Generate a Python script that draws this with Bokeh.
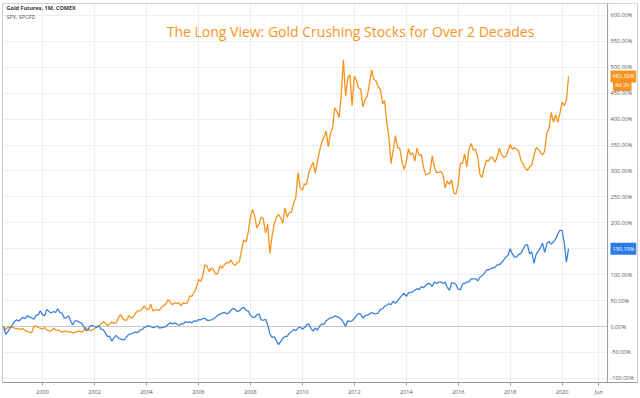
from datetime import datetime
import pandas as pd
from bokeh.plotting import figure
from bokeh.models import (Range1d, FixedTicker, PrintfTickFormatter, Label, Span,
                          BoxAnnotation, ColumnDataSource)
from bokeh.embed import file_html
from bokeh.resources import INLINE

# ---------------- data (percent change, monthly closes) ----------------
start_month = "1998-07-01"

gold_pct = [
    0, -6, -1, -2, -1, -3,
    -4, -4, -6, -4, -8, -10, -11, -12, 0, 1, -2, -3,
    -5, -2, -7, -8, -9, -3, -7, -7, -8, -11, -9, -9,
    -11, -10, -13, -11, -10, -9, -11, -8, -2, -6, -8, -6,
    -5, 0, 1, 4, 9, 7, 2, 5, 9, 6, 7, 16,
    23, 16, 12, 13, 21, 16, 19, 26, 30, 30, 34, 40,
    34, 33, 43, 30, 32, 33, 31, 37, 40, 44, 52, 47,
    42, 46, 44, 46, 40, 46, 44, 46, 59, 58, 66, 74,
    91, 87, 96, 119, 116, 106, 113, 109, 101, 103, 117, 113,
    119, 124, 122, 128, 121, 118, 123, 126, 149, 167, 163, 181,
    210, 226, 213, 190, 197, 211, 208, 180, 197, 141, 174, 197,
    211, 216, 210, 199, 229, 211, 220, 220, 238, 249, 297, 268,
    263, 275, 274, 296, 307, 317, 296, 318, 339, 356, 365, 377,
    347, 373, 383, 422, 415, 403, 446, 514, 444, 479, 486, 426,
    483, 474, 460, 458, 423, 438, 444, 468, 495, 477, 474, 462,
    458, 430, 436, 395, 367, 314, 340, 368, 345, 344, 319, 303,
    316, 343, 331, 335, 319, 344, 330, 332, 306, 293, 294, 297,
    329, 307, 297, 297, 299, 293, 267, 281, 274, 283, 257, 256,
    274, 315, 314, 333, 308, 343, 353, 340, 342, 327, 294, 287,
    306, 321, 319, 326, 326, 317, 326, 344, 331, 326, 328, 339,
    351, 342, 345, 342, 338, 321, 314, 305, 301, 308, 311, 330,
    345, 342, 336, 331, 338, 374, 382, 413, 394, 408, 394, 411,
    433, 426, 436, 482.32,
]

spx_pct = [
    0, -15, -10, -3, 3, 9,
    13, 10, 14, 18, 15, 21, 18, 17, 14, 21, 23, 30,
    23, 21, 33, 29, 26, 29, 27, 34, 27, 26, 16, 17,
    21, 10, 3, 11, 11, 8, 7, 0, -8, -6, 1, 2,
    0, -2, 2, -5, -6, -12, -19, -19, -28, -22, -17, -22,
    -24, -26, -25, -19, -15, -14, -12, -11, -12, -7, -6, -2,
    0, 1, 0, -2, -1, 1, -3, -2, -1, 0, 4, 7,
    5, 7, 5, 2, 5, 5, 9, 8, 9, 7, 11, 10,
    13, 13, 15, 16, 12, 12, 13, 15, 18, 22, 24, 26,
    27, 25, 26, 31, 35, 33, 29, 30, 35, 37, 31, 30,
    22, 18, 17, 23, 24, 13, 12, 14, 3, -14, -21, -20,
    -27, -35, -29, -23, -19, -19, -13, -10, -6, -8, -3, -1,
    -5, -2, 3, 5, -4, -9, -3, -7, 1, 5, 4, 11,
    14, 17, 17, 21, 19, 17, 14, 8, 0, 11, 10, 11,
    16, 21, 25, 24, 16, 21, 22, 24, 27, 25, 25, 26,
    33, 34, 39, 41, 44, 42, 49, 45, 49, 55, 60, 64,
    58, 65, 66, 67, 70, 73, 71, 77, 75, 79, 83, 82,
    77, 86, 83, 85, 86, 83, 86, 75, 70, 84, 84, 81,
    72, 71, 82, 83, 86, 86, 92, 92, 92, 88, 95, 98,
    102, 109, 109, 111, 113, 114, 119, 119, 123, 128, 134, 137,
    150, 140, 134, 134, 139, 141, 149, 157, 158, 140, 144, 122,
    139, 146, 151, 161, 143, 160, 164, 159, 163, 169, 178, 186,
    185, 161, 124, 150.19,
]

x_tick_dates = ["2000-01-01", "2002-01-01", "2004-01-01", "2006-01-01", "2008-01-01",
                "2010-01-01", "2012-01-01", "2014-01-01", "2016-01-01", "2018-01-01",
                "2020-01-01", "2021-06-01"]
x_tick_labels = ["2000", "2002", "2004", "2006", "2008", "2010", "2012", "2014",
                 "2016", "2018", "2020", "Jun"]
y_ticks = [-100, -50, 0, 50, 100, 150, 200, 250, 300, 350, 400, 450, 500, 550, 600]

title_text = "The Long View: Gold Crushing Stocks for Over 2 Decades"
legend_gold = "Gold Futures, 1M, COMEX"
legend_spx = "SPX, SPCFD"
gold_last_label = "482.32%"
gold_timer_label = "4d 2h"
spx_last_label = "150.19%"

# ---------------- styles ----------------
ORANGE = "#F7931E"
BLUE = "#3B82DC"
GRID = "#eeeeee"
AXIS = "#9a9a9a"
BORDER = "#cccccc"
FONT = "Open Sans"
SMALL = "5.5px"

# time-scale layout: visible window and the start of the price-scale strip
view_start = datetime(1998, 6, 17)
scale_strip_start = "2021-10-01"
view_end = datetime(2022, 11, 26)

dates = pd.date_range(start_month, periods=len(gold_pct), freq="MS")
src = ColumnDataSource(dict(date=dates, gold=gold_pct, spx=spx_pct))

def ms(d):
    return (pd.Timestamp(d) - pd.Timestamp("1970-01-01")).total_seconds() * 1000.0

p = figure(width=640, height=398, output_backend="svg", toolbar_location=None,
           x_axis_type="datetime", y_axis_location="right",
           x_range=Range1d(view_start, view_end),
           y_range=Range1d(-108, 623),
           min_border_left=2, min_border_top=3, min_border_right=3, min_border_bottom=16)
p.outline_line_color = BORDER
p.background_fill_color = "white"
p.border_fill_color = "white"

p.xgrid.grid_line_color = GRID
p.ygrid.grid_line_color = GRID

# x axis
xt = [ms(d) for d in x_tick_dates]
p.xaxis.ticker = FixedTicker(ticks=xt)
p.xaxis.major_label_overrides = {t: lab for t, lab in zip(xt, x_tick_labels)}
p.xaxis.minor_tick_line_color = None
p.xaxis.major_tick_out = 3
p.xaxis.major_tick_in = 0
p.xaxis.axis_line_color = AXIS
p.xaxis.major_tick_line_color = AXIS
p.xaxis.major_label_text_font_size = SMALL
p.xaxis.major_label_text_color = "#555555"
p.xaxis.major_label_text_font = FONT
p.xaxis.major_label_standoff = 2

# price scale: labels drawn back into the strip left of the axis line
p.yaxis.ticker = FixedTicker(ticks=y_ticks)
p.yaxis.formatter = PrintfTickFormatter(format="%.2f%%")
p.yaxis.minor_tick_line_color = None
p.yaxis.major_tick_line_color = None
p.yaxis.major_tick_out = 0
p.yaxis.major_tick_in = 0
p.yaxis.axis_line_color = BORDER
p.yaxis.major_label_text_font_size = SMALL
p.yaxis.major_label_text_color = "#555555"
p.yaxis.major_label_text_font = FONT
p.yaxis.major_label_standoff = -27

# zero line, then a white strip hiding the grid behind the price scale
p.add_layout(Span(location=0, dimension="width", line_color="#c8c8c8", line_width=1,
                  level="underlay"))
p.add_layout(BoxAnnotation(left=ms(scale_strip_start), fill_color="white", fill_alpha=1,
                           line_color=None, level="underlay"))
p.add_layout(Span(location=ms(scale_strip_start), dimension="height", line_color=AXIS,
                  line_width=1))

# series
p.line("date", "gold", source=src, line_color=ORANGE, line_width=1.3)
p.line("date", "spx", source=src, line_color=BLUE, line_width=1.3)

# title and legend texts (screen units are relative to the plot frame)
p.add_layout(Label(x=348, y=351, x_units="screen", y_units="screen", text=title_text,
                   text_font=FONT, text_font_size="14px", text_color=ORANGE,
                   text_align="center", text_baseline="middle"))
p.add_layout(Label(x=4, y=374.5, x_units="screen", y_units="screen", text=legend_gold,
                   text_font=FONT, text_font_size=SMALL, text_color="#333333",
                   text_font_style="bold", text_baseline="middle"))
p.add_layout(Label(x=4, y=366, x_units="screen", y_units="screen", text=legend_spx,
                   text_font=FONT, text_font_size=SMALL, text_color="#555555",
                   text_baseline="middle"))

# last-value boxes on the price scale
p.add_layout(Label(x=608, y=gold_pct[-1], x_units="screen", y_units="data",
                   text=gold_last_label, text_font=FONT, text_font_size=SMALL,
                   text_color="white", background_fill_color=ORANGE,
                   text_baseline="middle", padding=2))
p.add_layout(Label(x=629, y=465.8, x_units="screen", y_units="data",
                   text=gold_timer_label, text_font=FONT, text_font_size=SMALL,
                   text_color="white", background_fill_color=ORANGE,
                   text_align="right", text_baseline="middle", padding=2))
p.add_layout(Label(x=608, y=spx_pct[-1], x_units="screen", y_units="data",
                   text=spx_last_label, text_font=FONT, text_font_size=SMALL,
                   text_color="white", background_fill_color="#2C7BE5",
                   text_baseline="middle", padding=2))

open("out.html", "w").write(file_html(p, INLINE))
